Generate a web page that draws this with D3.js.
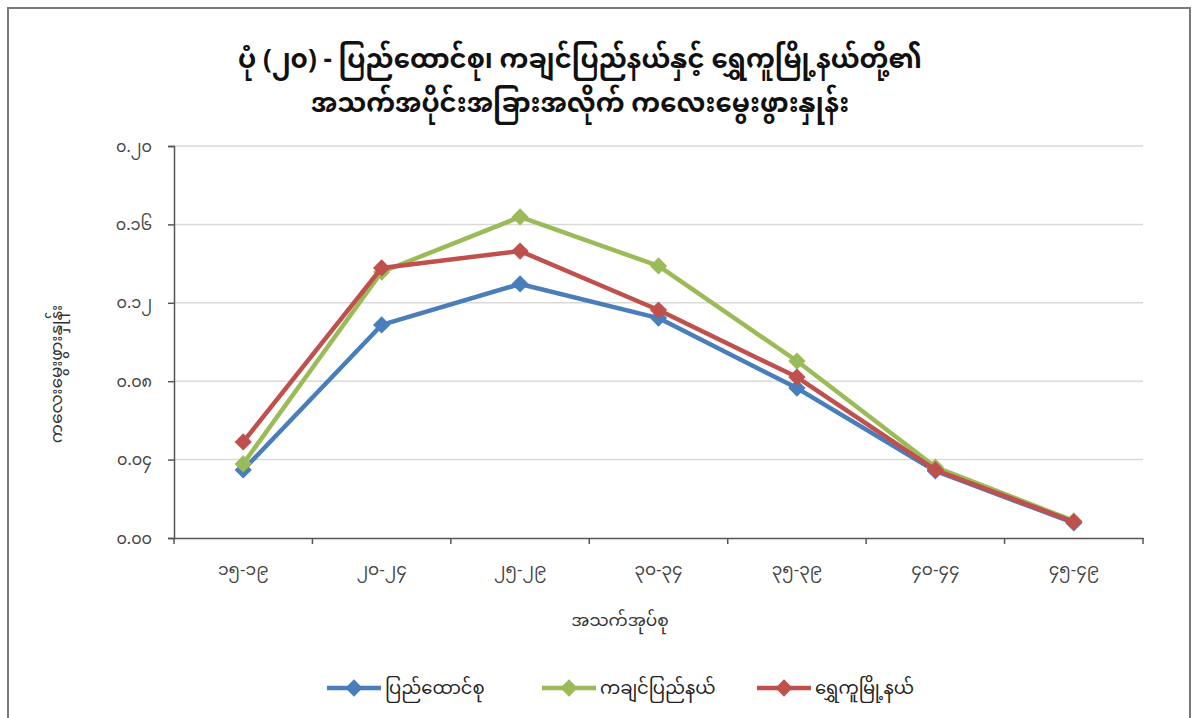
<!DOCTYPE html>
<html>
<head>
<meta charset="utf-8">
<script src="https://cdn.jsdelivr.net/npm/d3@7"></script>
<style>
  body { margin: 0; background: #fff; }
  text { font-family: "Noto Sans Myanmar", "Padauk", "Myanmar Text", "Noto Sans", "DejaVu Sans", sans-serif; }
</style>
</head>
<body>
<div class="chart-container"></div>
<script>
const svgWidth = 1192;
const svgHeight = 718;

const titleLines = ["ပုံ (၂၀) - ပြည်ထောင်စု၊ ကချင်ပြည်နယ်နှင့် ရွှေကူမြို့နယ်တို့၏",
                    "အသက်အပိုင်းအခြားအလိုက် ကလေးမွေးဖွားနှုန်း"];
const xTitle = "အသက်အုပ်စု";
const yTitle = "ကလေးမွေးဖွားနှုန်း";

const ageGroups = ["၁၅-၁၉", "၂၀-၂၄", "၂၅-၂၉", "၃၀-၃၄", "၃၅-၃၉", "၄၀-၄၄", "၄၅-၄၉"];
const yTicks = [0, 0.04, 0.08, 0.12, 0.16, 0.20];
const yTickLabels = ["၀.၀၀", "၀.၀၄", "၀.၀၈", "၀.၁၂", "၀.၁၆", "၀.၂၀"];

const seriesNames = ["ပြည်ထောင်စု", "ကချင်ပြည်နယ်", "ရွှေကူမြို့နယ်"];
const seriesColors = ["#4a7ebb", "#9bbb59", "#c0504d"];
const unionValues  = [0.0347, 0.1087, 0.1296, 0.1122, 0.0765, 0.0342, 0.0077];
const kachinValues = [0.0378, 0.1357, 0.1638, 0.1388, 0.0903, 0.0362, 0.0087];
const shwekuValues = [0.0490, 0.1378, 0.1464, 0.1163, 0.0821, 0.0347, 0.0082];
const seriesValues = [unionValues, kachinValues, shwekuValues];

const svg = d3.select(".chart-container")
              .append("svg")
              .attr("width", svgWidth)
              .attr("height", svgHeight);

// outer frame
svg.append("rect")
   .attr("x", 8).attr("y", 8)
   .attr("width", 1182).attr("height", 716)
   .attr("fill", "none")
   .attr("stroke", "#7a7a7a")
   .attr("stroke-width", 2);

// title, two lines
svg.append("text")
   .attr("x", 580)
   .attr("y", 0)
   .attr("text-anchor", "middle")
   .style("font-size", "26px")
   .style("font-weight", "bold")
   .attr("fill", "#111")
   .selectAll("tspan")
   .data(titleLines)
   .enter().append("tspan")
   .attr("x", 580)
   .attr("y", function(d, i) { return 68 + i * 44; })
   .text(function(d) { return d; });

const xScale = d3.scaleBand()
                 .domain(ageGroups)
                 .range([174, 1143]);

const yScale = d3.scaleLinear()
                 .domain([0, 0.2])
                 .range([538, 146]);

// gridlines
svg.append("g")
   .selectAll("line")
   .data(yTicks.slice(1))
   .enter().append("line")
   .attr("x1", 174).attr("x2", 1143)
   .attr("y1", function(d) { return yScale(d); })
   .attr("y2", function(d) { return yScale(d); })
   .attr("stroke", "#d9d9d9")
   .attr("stroke-width", 1.5);

const yAxis = d3.axisLeft(yScale)
                .tickValues(yTicks)
                .tickSize(6)
                .tickFormat(function(d, i) { return yTickLabels[i]; });

const gy = svg.append("g")
   .attr("transform", "translate(174,0)")
   .call(yAxis);
gy.select(".domain").attr("stroke", "#555").attr("stroke-width", 1.5);
gy.selectAll(".tick line").attr("stroke", "#555").attr("stroke-width", 1.5);
gy.selectAll(".tick text").attr("fill", "#444").style("font-size", "16px").attr("x", -22);

const xAxis = d3.axisBottom(xScale)
                .tickSize(0);

const gx = svg.append("g")
   .attr("transform", "translate(0,538)")
   .call(xAxis);
gx.select(".domain").attr("stroke", "#555").attr("stroke-width", 1.5);
gx.selectAll(".tick text").attr("fill", "#444").style("font-size", "17px").attr("dy", "2em");

// x ticks between categories
const bounds = ageGroups.map(function(d) { return xScale(d); }).concat([xScale.range()[1]]);
gx.selectAll(".bound")
  .data(bounds)
  .enter().append("line")
  .attr("x1", function(d) { return d; })
  .attr("x2", function(d) { return d; })
  .attr("y1", 0).attr("y2", 6)
  .attr("stroke", "#555")
  .attr("stroke-width", 1.5);

// axis titles
svg.append("text")
   .attr("x", 620)
   .attr("y", 626)
   .attr("text-anchor", "middle")
   .style("font-size", "17px")
   .attr("fill", "#333")
   .text(xTitle);

svg.append("text")
   .attr("transform", "translate(62,374) rotate(-90)")
   .attr("text-anchor", "middle")
   .style("font-size", "17px")
   .attr("fill", "#333")
   .text(yTitle);

const line = d3.line()
               .x(function(d, i) { return xScale(ageGroups[i]) + xScale.bandwidth() / 2; })
               .y(function(d) { return yScale(d); });

const diamond = d3.symbol().type(d3.symbolDiamond2).size(190);

seriesValues.forEach(function(vals, s) {
    svg.append("path")
       .datum(vals)
       .attr("d", line)
       .attr("fill", "none")
       .attr("stroke", seriesColors[s])
       .attr("stroke-width", 4.5)
       .attr("stroke-linejoin", "round");
    svg.append("g")
       .selectAll("path")
       .data(vals)
       .enter().append("path")
       .attr("d", diamond)
       .attr("transform", function(d, i) {
           return "translate(" + (xScale(ageGroups[i]) + xScale.bandwidth() / 2) + "," + yScale(d) + ")";
       })
       .attr("fill", seriesColors[s]);
});

// legend
const legendX = [327, 542, 757];
const legend = svg.append("g")
   .selectAll("g")
   .data(seriesNames)
   .enter().append("g")
   .attr("transform", function(d, i) { return "translate(" + legendX[i] + ",688)"; });

legend.append("line")
   .attr("x1", 0).attr("x2", 54)
   .attr("stroke", function(d, i) { return seriesColors[i]; })
   .attr("stroke-width", 4.5);
legend.append("path")
   .attr("d", diamond)
   .attr("transform", "translate(27,0)")
   .attr("fill", function(d, i) { return seriesColors[i]; });
legend.append("text")
   .attr("x", 58)
   .attr("y", 6)
   .style("font-size", "18px")
   .attr("fill", "#222")
   .text(function(d) { return d; });
</script>
</body>
</html>
